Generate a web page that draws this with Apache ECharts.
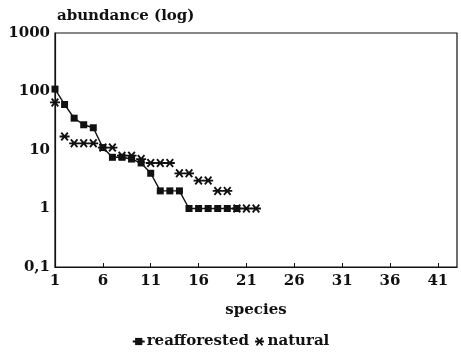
<!DOCTYPE html>
<html>
<head>
<meta charset="utf-8">
<script src="https://cdn.jsdelivr.net/npm/echarts@6/dist/echarts.min.js"></script>
<style>
  html, body { margin: 0; padding: 0; background: #fff; }
  #main { width: 461px; height: 352px; }
</style>
</head>
<body>
<div id="main"></div>
<script>
// species rank 1..43 on the x axis
const species = [];
for (let i = 1; i <= 43; i++) species.push(String(i));

// abundance per species rank
const reafforested = [110, 60, 35, 27, 24, 11, 7.5, 7.5, 7, 6, 4, 2, 2, 2, 1, 1, 1, 1, 1, 1];
const natural = [65, 17, 13, 13, 13, 11, 11, 8, 8, 7, 6, 6, 6, 4, 4, 3, 3, 2, 2, 1, 1, 1];

const asterisk = "path://M0,4 L10,4 L10,6 L0,6 Z M1,1.4 L2.4,0 L9,8.6 L7.6,10 Z M7.6,0 L9,1.4 L2.4,10 L1,8.6 Z";
const ink = "#111";
const font = "DejaVu Serif";
const txt = { fontFamily: font, fontSize: 15, fontWeight: "bold", color: ink };

const chart = echarts.init(document.getElementById("main"));

const option = {
   backgroundColor: "#fff",
   animation: false,
   textStyle: { fontFamily: font, color: ink },
   grid: { left: 55, right: 4, top: 33, bottom: 85, show: true, borderColor: ink, borderWidth: 1.2 },
   legend: {
      bottom: -2,
      left: "center",
      itemWidth: 12,
      itemHeight: 9,
      itemGap: 6,
      textStyle: { ...txt, padding: [0, 0, 0, -3] },
      data: ["reafforested", "natural"],
   },
   xAxis: {
      type: "category",
      data: species,
      boundaryGap: false,
      name: "species",
      nameLocation: "middle",
      nameGap: 36,
      nameTextStyle: txt,
      axisLine: { lineStyle: { color: ink, width: 1.2 } },
      axisTick: { inside: true, length: 4, interval: 4, lineStyle: { color: ink } },
      axisLabel: { ...txt, interval: 4, margin: 7 },
      splitLine: { show: false },
   },
   yAxis: {
      type: "log",
      logBase: 10,
      min: 0.1,
      max: 1000,
      name: "abundance (log)",
      nameLocation: "end",
      nameGap: 9,
      nameTextStyle: { ...txt, align: "left", padding: [0, 0, 0, 2] },
      axisLine: { show: true, lineStyle: { color: ink, width: 1.2 } },
      axisTick: { show: false },
      axisLabel: {
         ...txt,
         margin: 5,
         formatter: (v) => (v < 1 ? v.toFixed(1).replace(".", ",") : String(Math.round(v))),
      },
      splitLine: { show: false },
   },
   series: [
      {
         name: "reafforested",
         type: "line",
         data: reafforested,
         symbol: "rect",
         symbolSize: 7,
         showSymbol: true,
         showAllSymbol: true,
         itemStyle: { color: ink },
         lineStyle: { color: ink, width: 1.4 },
      },
      {
         name: "natural",
         type: "scatter",
         data: natural,
         symbol: asterisk,
         symbolSize: [10, 9],
         itemStyle: { color: ink, opacity: 1 },
      },
   ],
};

chart.setOption(option);
</script>
</body>
</html>
